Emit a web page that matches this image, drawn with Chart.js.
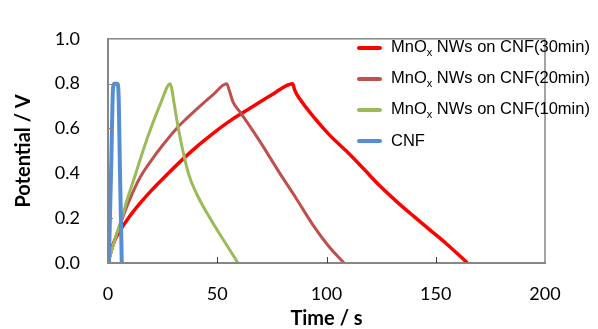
<!DOCTYPE html>
<html>
<head>
<meta charset="utf-8">
<script src="https://cdn.jsdelivr.net/npm/chart.js@4/dist/chart.umd.min.js"></script>
<style>
  body { margin: 0; background: #fff; }
  #wrap { position: relative; width: 598px; height: 329px; }
  #legend { position: absolute; left: 357px; top: 32px; font-family: "Liberation Sans", Arial, sans-serif; font-size: 16.5px; color: #000; }
  #legend .row { height: 31px; display: flex; align-items: center; white-space: nowrap; }
  #legend .swatch { width: 25px; height: 4px; border-radius: 2px; margin-right: 9px; }
  #legend sub { font-size: 11px; vertical-align: -4px; }
</style>
</head>
<body>
<div id="wrap">
  <canvas id="gcd" width="598" height="329"></canvas>
  <div id="legend"></div>
</div>
<script>
const seriesLabels = ['MnOx NWs on CNF(30min)', 'MnOx NWs on CNF(20min)', 'MnOx NWs on CNF(10min)', 'CNF']
const seriesColors = ['#FF0000', '#C0504D', '#9BBB59', '#558ED5']

// time (s) / potential (V)
const t30 = [0, 1.5, 3, 5.5, 9.3, 15, 20, 27.6, 35, 42, 49, 56, 65, 75, 84.5, 85.5, 87.9, 94, 101, 109.2, 117, 124.5, 132, 139.7, 147, 155, 164.5]
const v30 = [0, 0.06, 0.1, 0.145, 0.2, 0.27, 0.325, 0.4, 0.47, 0.53, 0.585, 0.635, 0.69, 0.75, 0.8, 0.77, 0.73, 0.653, 0.575, 0.498, 0.42, 0.343, 0.275, 0.21, 0.15, 0.085, 0]
const t20 = [0, 3, 6.6, 10, 14.6, 20, 25, 31.4, 36, 42.1, 48, 54.3, 55.5, 57.3, 60.4, 69, 78, 86, 94, 101, 108]
const v20 = [0, 0.1, 0.2, 0.285, 0.38, 0.46, 0.525, 0.6, 0.645, 0.7, 0.75, 0.8, 0.77, 0.716, 0.674, 0.55, 0.41, 0.29, 0.167, 0.075, 0]
const t10 = [0, 3, 6.3, 9, 12.4, 16, 19.2, 24, 28.5, 29.3, 30.2, 32.2, 36.8, 41, 46.7, 53, 59.5]
const v10 = [0, 0.1, 0.2, 0.29, 0.39, 0.5, 0.59, 0.71, 0.8, 0.77, 0.716, 0.6, 0.4, 0.3, 0.2, 0.1, 0]
const tCNF = [0.4, 1.5, 2.3, 2.8, 4.3, 4.8, 5.5, 6.3]
const vCNF = [0, 0.45, 0.78, 0.8, 0.8, 0.76, 0.4, 0]

const xTicks = [0, 50, 100, 150, 200]
const yTicks = [0, 0.2, 0.4, 0.6, 0.8, 1.0]

function pts(ts, vs) { return ts.map((t, i) => ({ x: t, y: vs[i] })) }
const allT = [t30, t20, t10, tCNF]
const allV = [v30, v20, v10, vCNF]
const widths = [3.5, 3, 3, 4]

const datasets = seriesLabels.map((label, i) => ({
  label: label,
  data: pts(allT[i], allV[i]),
  borderColor: seriesColors[i],
  backgroundColor: seriesColors[i],
  borderWidth: widths[i],
  pointRadius: 0,
  cubicInterpolationMode: 'monotone',
  order: 3 - i
}))

// frame + inward tick marks
const frame = {
  id: 'frame',
  afterDatasetsDraw(chart) {
    const { ctx, chartArea: a, scales } = chart
    ctx.save()
    ctx.strokeStyle = '#868686'
    ctx.lineWidth = 1.5
    ctx.strokeRect(a.left, a.top, a.right - a.left, a.bottom - a.top)
    ctx.lineWidth = 1
    ctx.strokeStyle = '#404040'
    xTicks.slice(1, -1).forEach(v => {
      const x = Math.round(scales.x.getPixelForValue(v)) + 0.5
      ctx.beginPath(); ctx.moveTo(x, a.bottom); ctx.lineTo(x, a.bottom - 6); ctx.stroke()
    })
    ctx.strokeStyle = '#868686'
    yTicks.slice(1, -1).forEach(v => {
      const y = Math.round(scales.y.getPixelForValue(v)) + 0.5
      ctx.beginPath(); ctx.moveTo(a.left, y); ctx.lineTo(a.left + 5, y); ctx.stroke()
    })
    ctx.restore()
  }
}

const tickFont = { family: 'Lato, "Open Sans", sans-serif', size: 18 }
const titleFont = { family: 'Lato, "Open Sans", sans-serif', size: 20, weight: 'bold', lineHeight: 1 }

const chart = new Chart(document.getElementById('gcd'), {
  type: 'line',
  data: { datasets: datasets },
  options: {
    responsive: false,
    animation: false,
    layout: { padding: { top: 26, right: 53, left: 0, bottom: 0 } },
    plugins: { legend: { display: false }, tooltip: { enabled: false } },
    scales: {
      x: {
        type: 'linear', min: 0, max: 200,
        afterBuildTicks: s => { s.ticks = xTicks.map(v => ({ value: v })) },
        afterFit: s => { s.height = 66 },
        grid: { drawOnChartArea: false, drawTicks: false },
        border: { color: '#868686', width: 2 },
        ticks: { font: tickFont, color: '#000', padding: 20, maxRotation: 0 },
        title: { display: true, text: 'Time / s', font: titleFont, color: '#000', padding: { top: 0, bottom: 0 } }
      },
      y: {
        min: 0, max: 1,
        afterBuildTicks: s => { s.ticks = yTicks.map(v => ({ value: v })) },
        afterFit: s => { s.width = 108 },
        grid: { drawOnChartArea: false, drawTicks: false },
        border: { color: '#868686', width: 2 },
        ticks: { font: tickFont, color: '#000', padding: 28, callback: v => v.toFixed(1) },
        title: { display: true, text: 'Potential / V', font: titleFont, color: '#000', padding: { top: 14, bottom: 0 } }
      }
    }
  },
  plugins: [frame]
})

// legend with subscript x
const leg = document.getElementById('legend')
chart.data.datasets.forEach(ds => {
  const row = document.createElement('div')
  row.className = 'row'
  const sw = document.createElement('span')
  sw.className = 'swatch'
  sw.style.background = ds.borderColor
  const txt = document.createElement('span')
  txt.innerHTML = ds.label.replace('MnOx', 'MnO<sub>x</sub>')
  row.appendChild(sw)
  row.appendChild(txt)
  leg.appendChild(row)
})
</script>
</body>
</html>
